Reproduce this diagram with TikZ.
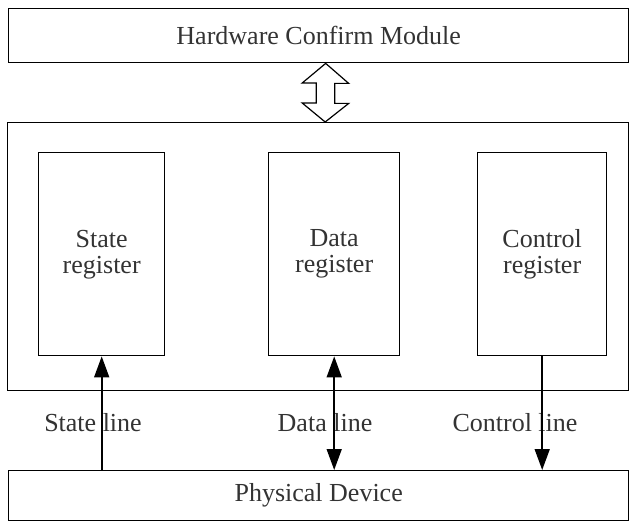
\documentclass[tikz,border=0pt]{standalone}
\usepackage{fontspec}
\setmainfont{Liberation Serif}
\usetikzlibrary{arrows.meta,calc}
\begin{document}
\begin{tikzpicture}[x=1pt,y=-1pt,
  box/.style={draw,line width=1.4pt,inner sep=0pt,anchor=north west,align=center,
    font=\fontsize{26}{26}\selectfont,text=black!80},
  lbl/.style={font=\fontsize{26}{26}\selectfont,text=black!80,inner sep=0pt},
  arr/.style={line width=1.6pt,-{Triangle[length=21pt,width=15pt]}},
  darr/.style={line width=1.6pt,{Triangle[length=21pt,width=15pt]}-{Triangle[length=21pt,width=15pt]}},
  ]
\useasboundingbox (0,0) rectangle (630,524);
\node[box,minimum width=620pt,minimum height=54pt] (hw) at (8,8) {Hardware Confirm Module};
\node[box,minimum width=621pt,minimum height=268pt] (mid) at (7,122) {};
\node[box,minimum width=126pt,minimum height=203pt] (sr) at (38,152) {State\\register};
\node[box,minimum width=131pt,minimum height=203pt] (dr) at (268,152) {Data\\register};
\node[box,minimum width=129pt,minimum height=203pt] (cr) at (477,152) {Control\\register};
\node[box,minimum width=620pt,minimum height=50pt] (pd) at (8,470) {Physical Device};
% double arrow between top box and middle box
\draw[line width=1.2pt,fill=white]
  ($(hw.south)+(7,0)$) -- ++(23,20) -- ++(-14,0) -- ++(0,20) -- ++(14,0)
  -- ($(mid.north)+(7,0)$) -- ++(-23,-19) -- ++(14,0) -- ++(0,-20) -- ++(-14,0) -- cycle;
% labels
\node[lbl] (sl) at (93,423) {State line};
\node[lbl] (dl) at (325,423) {Data line};
\node[lbl] (cl) at (515,423) {Control line};
% connectors
\draw[arr] (pd.north -| sr.south) -- (sr.south);
\draw[darr] (dr.south) -- (pd.north -| dr.south);
\draw[arr] (cr.south) -- (pd.north -| cr.south);
\end{tikzpicture}
\end{document}
